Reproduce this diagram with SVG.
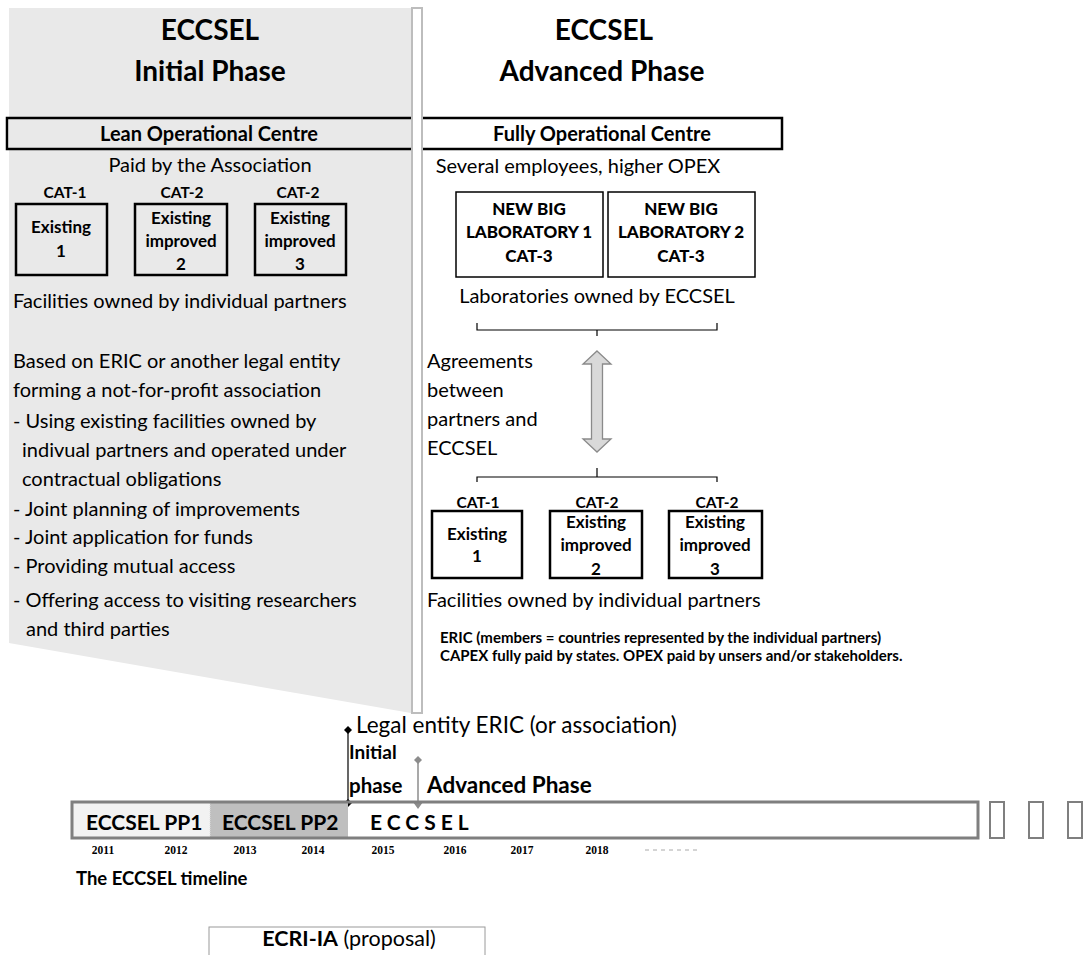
<svg xmlns="http://www.w3.org/2000/svg" width="1084" height="955" viewBox="0 0 1084 955">
  <style>
    text { font-family: Lato, "Open Sans", "Liberation Sans", sans-serif; fill: #000; }
    .title { font-size: 28px; font-weight: 700; text-anchor: middle; }
    .band { font-size: 20px; font-weight: 700; text-anchor: middle; }
    .body { font-size: 20px; }
    .mid { text-anchor: middle; }
    .cat { font-size: 15.5px; font-weight: 700; text-anchor: middle; }
    .fac { font-size: 17px; font-weight: 700; text-anchor: middle; }
    .lab { font-size: 17px; font-weight: 900; text-anchor: middle; }
    .note { font-size: 15px; font-weight: 700; }
    .tl { font-size: 21px; font-weight: 700; }
    .year { font-family: "Liberation Serif", "DejaVu Serif", serif; font-size: 11.5px; font-weight: 700; text-anchor: middle; }
    .facbox { fill: none; stroke: #000; stroke-width: 2.5; }
    .labbox { fill: #fff; stroke: #000; stroke-width: 1.5; }
    .bracket { fill: none; stroke: #000; stroke-width: 1.2; }
  </style>

  <rect width="1084" height="955" fill="#fff"/>

  <!-- shaded initial-phase panel -->
  <g id="initial-panel">
    <polygon points="9,8 411,8 411,713 9,643" fill="#e9e9e9"/>
  </g>

  <!-- centre band running across both phases -->
  <g id="centre-band">
    <rect x="7" y="118" width="775" height="31" fill="none" stroke="#000" stroke-width="2.5"/>
  </g>

  <!-- phase divider -->
  <g id="divider">
    <rect x="412" y="8" width="10" height="705" fill="#fff" stroke="#bdbdbd" stroke-width="2"/>
  </g>

  <!-- initial phase column -->
  <g id="initial-phase">
    <text class="title" x="210" y="40">ECCSEL</text>
    <text class="title" x="210" y="81">Initial Phase</text>
    <text class="band" x="209" y="141">Lean Operational Centre</text>
    <text class="body mid" x="210" y="172">Paid by the Association</text>
  </g>

  <g id="init-fac-1">
    <text class="cat" x="65" y="198">CAT-1</text>
    <rect class="facbox" x="16" y="204" width="91" height="71"/>
    <text class="fac" x="61" y="233">Existing</text>
    <text class="fac" x="61" y="257">1</text>
  </g>
  <g id="init-fac-2">
    <text class="cat" x="182" y="198">CAT-2</text>
    <rect class="facbox" x="135" y="204" width="92" height="71"/>
    <text class="fac" x="181" y="224">Existing</text>
    <text class="fac" x="181" y="247">improved</text>
    <text class="fac" x="181" y="270">2</text>
  </g>
  <g id="init-fac-3">
    <text class="cat" x="298" y="198">CAT-2</text>
    <rect class="facbox" x="255" y="204" width="91" height="71"/>
    <text class="fac" x="300" y="224">Existing</text>
    <text class="fac" x="300" y="247">improved</text>
    <text class="fac" x="300" y="270">3</text>
  </g>

  <g id="initial-notes">
    <text class="body" x="13" y="308">Facilities owned by individual partners</text>
    <text class="body" x="13" y="368">Based on ERIC or another legal entity</text>
    <text class="body" x="13" y="397">forming a not-for-profit association</text>
    <text class="body" x="13" y="428">- Using existing facilities owned by</text>
    <text class="body" x="22" y="457">indivual partners and operated under</text>
    <text class="body" x="22" y="486">contractual obligations</text>
    <text class="body" x="13" y="516">- Joint planning of improvements</text>
    <text class="body" x="13" y="544">- Joint application for funds</text>
    <text class="body" x="13" y="573">- Providing mutual access</text>
    <text class="body" x="13" y="607">- Offering access to visiting researchers</text>
    <text class="body" x="26" y="636">and third parties</text>
  </g>

  <!-- advanced phase column -->
  <g id="advanced-phase">
    <text class="title" x="604" y="40">ECCSEL</text>
    <text class="title" x="602" y="81">Advanced Phase</text>
    <text class="band" x="602" y="141">Fully Operational Centre</text>
    <text class="body mid" x="578" y="173">Several employees, higher OPEX</text>
  </g>

  <g id="lab-1">
    <rect class="labbox" x="456" y="192" width="147" height="85"/>
    <text class="lab" x="529" y="215">NEW BIG</text>
    <text class="lab" x="529" y="238">LABORATORY 1</text>
    <text class="lab" x="529" y="262">CAT-3</text>
  </g>
  <g id="lab-2">
    <rect class="labbox" x="608" y="192" width="147" height="85"/>
    <text class="lab" x="681" y="215">NEW BIG</text>
    <text class="lab" x="681" y="238">LABORATORY 2</text>
    <text class="lab" x="681" y="262">CAT-3</text>
  </g>
  <g id="lab-owner">
    <text class="body mid" x="597" y="303">Laboratories owned by ECCSEL</text>
  </g>

  <g id="agreements">
    <text class="body" x="427" y="368">Agreements</text>
    <text class="body" x="427" y="397">between</text>
    <text class="body" x="427" y="426">partners and</text>
    <text class="body" x="427" y="455">ECCSEL</text>
  </g>

  <g id="adv-fac-1">
    <text class="cat" x="478" y="508">CAT-1</text>
    <rect class="facbox" x="432" y="511" width="90" height="67"/>
    <text class="fac" x="477" y="540">Existing</text>
    <text class="fac" x="477" y="562">1</text>
  </g>
  <g id="adv-fac-2">
    <text class="cat" x="597" y="508">CAT-2</text>
    <rect class="facbox" x="550" y="511" width="92" height="67"/>
    <text class="fac" x="596" y="528">Existing</text>
    <text class="fac" x="596" y="551">improved</text>
    <text class="fac" x="596" y="575">2</text>
  </g>
  <g id="adv-fac-3">
    <text class="cat" x="717" y="508">CAT-2</text>
    <rect class="facbox" x="669" y="511" width="93" height="67"/>
    <text class="fac" x="715" y="528">Existing</text>
    <text class="fac" x="715" y="551">improved</text>
    <text class="fac" x="715" y="575">3</text>
  </g>

  <g id="advanced-notes">
    <text class="body" x="427" y="607">Facilities owned by individual partners</text>
    <text class="note" x="440" y="643">ERIC (members = countries represented by the individual partners)</text>
    <text class="note" x="440" y="661">CAPEX fully paid by states. OPEX paid by unsers and/or stakeholders.</text>
  </g>

  <!-- connectors -->
  <g id="connectors">
    <path class="bracket" d="M477,323 V330 H717 V323 M597,330 V336"/>
    <path d="M597,351 L611,364 L602.5,364 L602.5,439 L611,439 L597,452 L583,439 L591.5,439 L591.5,364 L583,364 Z" fill="#d9d9d9" stroke="#8a8a8a" stroke-width="1.3"/>
    <path class="bracket" d="M477,482 V477 H717 V482 M597,477 V468"/>
    <!-- milestone markers on the timeline -->
    <line x1="348" y1="730" x2="348" y2="803" stroke="#000" stroke-width="1.2"/>
    <path d="M348,726 L352,730 L348,734 L344,730 Z M348,799 L352,803 L348,807 L344,803 Z" fill="#000"/>
    <line x1="418" y1="760" x2="418" y2="803" stroke="#8c8c8c" stroke-width="1.5"/>
    <path d="M418,756 L422,760 L418,764 L414,760 Z M413,802 L423,802 L418,809 Z" fill="#8c8c8c"/>
  </g>

  <!-- timeline -->
  <g id="timeline">
    <rect x="72" y="802" width="138" height="36" fill="#f2f2f2"/>
    <rect x="210" y="802" width="138" height="36" fill="#bfbfbf"/>
    <line x1="210" y1="803" x2="210" y2="837" stroke="#e0e0e0" stroke-width="1" stroke-dasharray="1 1"/>
    <rect x="72" y="802" width="906" height="36" fill="none" stroke="#7f7f7f" stroke-width="3"/>
    <rect x="990" y="802" width="14" height="36" fill="none" stroke="#7f7f7f" stroke-width="2"/>
    <rect x="1029" y="802" width="14" height="36" fill="none" stroke="#7f7f7f" stroke-width="2"/>
    <rect x="1068" y="802" width="14" height="36" fill="none" stroke="#7f7f7f" stroke-width="2"/>
    <text class="tl" x="86" y="830">ECCSEL PP1</text>
    <text class="tl" x="222" y="830">ECCSEL PP2</text>
    <text class="tl" x="370" y="830" letter-spacing="5">ECCSEL</text>
    <text class="year" x="103" y="854">2011</text>
    <text class="year" x="176" y="854">2012</text>
    <text class="year" x="245" y="854">2013</text>
    <text class="year" x="313" y="854">2014</text>
    <text class="year" x="383" y="854">2015</text>
    <text class="year" x="455" y="854">2016</text>
    <text class="year" x="522" y="854">2017</text>
    <text class="year" x="597" y="854">2018</text>
    <line x1="645" y1="850" x2="698" y2="850" stroke="#aaa" stroke-width="1" stroke-dasharray="4 4"/>
    <text x="76" y="885" font-size="18.5" font-weight="700">The ECCSEL timeline</text>
  </g>

  <g id="milestones">
    <text x="356" y="733" font-size="22.5">Legal entity ERIC (or association)</text>
    <text x="349" y="759" font-size="19" font-weight="700">Initial</text>
    <text x="349" y="793" font-size="20.5" font-weight="700">phase</text>
    <text x="427" y="793" font-size="22.5" font-weight="700">Advanced Phase</text>
  </g>

  <g id="ecri-ia">
    <rect x="209" y="927" width="276" height="40" fill="#fff" stroke="#9a9a9a" stroke-width="1"/>
    <text x="349" y="946" font-size="21.5" text-anchor="middle"><tspan font-weight="700">ECRI-IA</tspan> (proposal)</text>
  </g>
</svg>
